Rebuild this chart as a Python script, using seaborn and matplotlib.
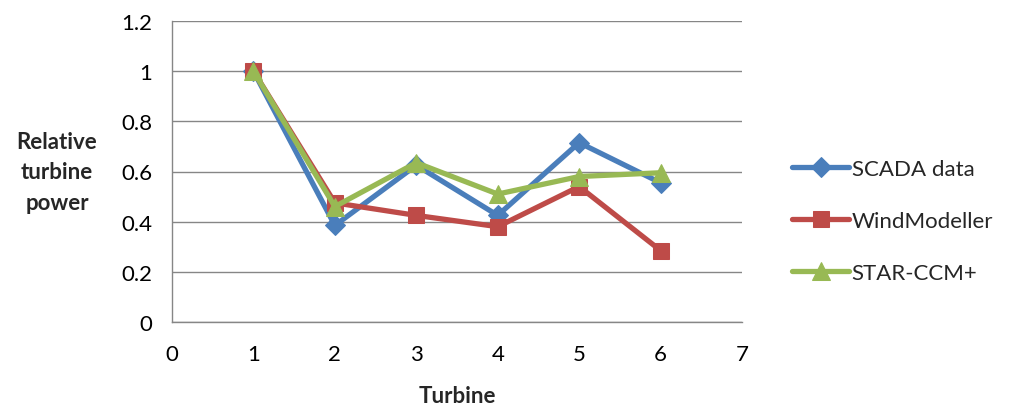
import matplotlib
matplotlib.use("Agg")
import matplotlib.pyplot as plt
import seaborn as sns
import pandas as pd

turbines = [1, 2, 3, 4, 5, 6]
scada = [1.0, 0.385, 0.625, 0.425, 0.715, 0.555]
windmodeller = [1.0, 0.475, 0.425, 0.38, 0.54, 0.285]
starccm = [1.0, 0.46, 0.635, 0.51, 0.58, 0.595]

series_names = ["SCADA data", "WindModeller", "STAR-CCM+"]
series_values = [scada, windmodeller, starccm]
colors = ["#4A7EBB", "#BE4B48", "#98B954"]
markers = ["D", "s", "^"]
marker_sizes = [10, 12, 13]

yticks = [0, 0.2, 0.4, 0.6, 0.8, 1, 1.2]
ytick_labels = ["0", "0.2", "0.4", "0.6", "0.8", "1", "1.2"]
xticks = [0, 1, 2, 3, 4, 5, 6, 7]

sns.set_style("white")
plt.rcParams["font.family"] = ["Lato", "DejaVu Sans"]
fs = 16

fig = plt.figure(figsize=(10.09, 4.10), dpi=100)
ax = fig.add_axes([172 / 1009, 1 - 323 / 410, (742 - 172) / 1009, (323 - 22) / 410])

for name, vals, c, m, ms in zip(series_names, series_values, colors, markers, marker_sizes):
    df = pd.DataFrame({"Turbine": turbines, "Power": vals})
    sns.lineplot(data=df, x="Turbine", y="Power", ax=ax, color=c, marker=m,
                 markersize=ms, markeredgecolor=c, linewidth=3.8, label=name,
                 zorder=3)

ax.set_xlim(0, 7)
ax.set_ylim(0, 1.2)
ax.set_xticks(xticks)
ax.set_xticklabels([str(t) for t in xticks], fontsize=fs)
ax.set_yticks(yticks)
ax.set_yticklabels(ytick_labels, fontsize=fs)

grid_c = "#868686"
ax.yaxis.grid(True, color=grid_c, linewidth=1.0)
ax.xaxis.grid(False)
for side in ["top", "right"]:
    ax.spines[side].set_visible(False)
for side in ["left", "bottom"]:
    ax.spines[side].set_color(grid_c)
    ax.spines[side].set_linewidth(1.0)
ax.tick_params(axis="both", direction="out", length=7, width=1.0, color=grid_c,
               labelcolor="black", pad=7)
ax.tick_params(axis="x", pad=9)

ax.set_xlabel("Turbine", fontsize=fs, fontweight="bold", labelpad=15)
ax.set_ylabel("")
fig.text(57 / 1009, 1 - 173 / 410, "Relative\nturbine\npower", ha="center", va="center",
         fontsize=fs, fontweight="bold", linespacing=1.55)

leg = ax.legend(loc="center left", bbox_to_anchor=(1.052, 0.336), frameon=False,
                fontsize=fs, handlelength=2.6, handletextpad=0.1, labelspacing=1.45)

fig.savefig("out.png", dpi=100)
